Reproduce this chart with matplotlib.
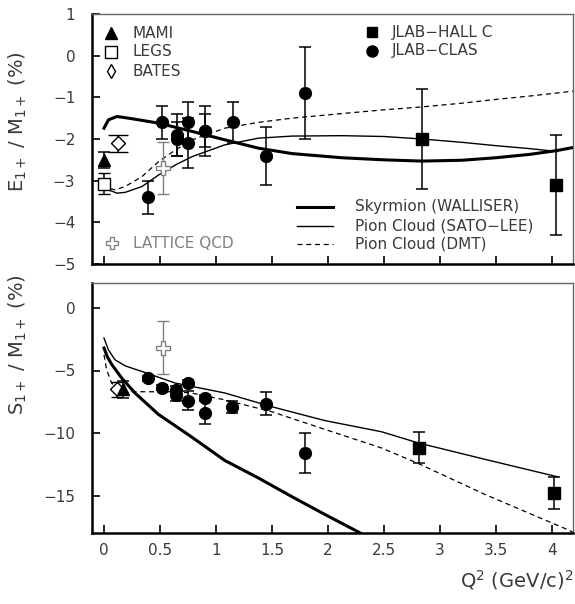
import matplotlib
matplotlib.use('Agg')
import matplotlib.pyplot as plt

plt.rcParams['font.family'] = ['DejaVu Sans']

# ---- data : E1+/M1+ (upper panel) ----
mami_x, mami_e, mami_de = [0.0], [-2.5], [0.2]
legs_x, legs_e, legs_de = [0.0], [-3.07], [0.25]
bates_x, bates_e, bates_de = [0.125], [-2.1], [0.2]
lat_x, lat_e, lat_de = [0.527], [-2.69], [0.63]
clas_x = [0.393, 0.52, 0.65, 0.65, 0.75, 0.75, 0.90, 0.90, 1.15, 1.446, 1.80]
clas_e = [-3.4, -1.6, -1.9, -2.0, -1.6, -2.1, -1.8, -1.8, -1.6, -2.4, -0.9]
clas_de = [0.4, 0.4, 0.5, 0.4, 0.5, 0.6, 0.4, 0.6, 0.5, 0.7, 1.1]
hallc_x = [2.84, 4.04]
hallc_e = [-2.0, -3.1]
hallc_de = [1.2, 1.2]

sky_x = [0, 0.04, 0.116, 0.22, 0.49, 0.79, 1.08, 1.38, 1.68, 2.125, 2.5, 2.84, 3.2, 3.5, 3.8, 4.04, 4.2]
sky_e = [-1.74, -1.54, -1.46, -1.5, -1.62, -1.82, -2.02, -2.22, -2.35, -2.45, -2.5, -2.53, -2.51, -2.45, -2.37, -2.28, -2.2]
sl_x = [0, 0.04, 0.116, 0.19, 0.34, 0.49, 0.64, 0.79, 1.08, 1.38, 1.68, 2.125, 2.5, 2.84, 3.2, 3.5, 3.8, 4.05]
sl_e = [-3.06, -3.22, -3.3, -3.28, -3.14, -2.86, -2.62, -2.42, -2.14, -1.98, -1.93, -1.92, -1.94, -2.0, -2.08, -2.16, -2.23, -2.3]
dmt_x = [0, 0.04, 0.1, 0.19, 0.34, 0.49, 0.64, 0.79, 1.08, 1.38, 1.68, 2.125, 2.5, 2.84, 3.2, 3.5, 3.8, 4.2]
dmt_e = [-3.06, -3.18, -3.22, -3.14, -2.9, -2.54, -2.26, -2.02, -1.74, -1.6, -1.5, -1.39, -1.3, -1.23, -1.14, -1.05, -0.97, -0.85]

# ---- data : S1+/M1+ (lower panel) ----
mami_sx, mami_s, mami_ds = [0.167], [-6.5], [0.7]
bates_sx, bates_s, bates_ds = [0.113], [-6.5], [0.6]
lat_sx, lat_s, lat_ds = [0.524], [-3.16], [2.1]
clas_sx = [0.396, 0.52, 0.643, 0.643, 0.747, 0.747, 0.90, 0.90, 1.146, 1.443, 1.795]
clas_s = [-5.61, -6.36, -6.55, -6.95, -5.96, -7.4, -7.17, -8.37, -7.89, -7.67, -11.58]
clas_ds = [0.2, 0.2, 0.3, 0.45, 0.2, 0.74, 0.2, 0.9, 0.48, 0.92, 1.58]
hallc_sx = [2.81, 4.02]
hallc_s = [-11.17, -14.78]
hallc_ds = [1.25, 1.3]

sky_sx = [0, 0.03, 0.068, 0.158, 0.277, 0.485, 0.78, 1.08, 1.38, 1.68, 1.97, 2.29]
sky_s = [-3.2, -3.9, -4.5, -5.6, -6.8, -8.5, -10.3, -12.2, -13.6, -15.1, -16.5, -18.0]
sl_sx = [0, 0.039, 0.098, 0.19, 0.366, 0.634, 1.08, 1.5, 1.97, 2.48, 2.81, 3.4, 4.05]
sl_s = [-2.4, -3.34, -4.14, -4.63, -5.16, -6.0, -6.8, -7.9, -9.0, -9.9, -10.8, -12.1, -13.5]
dmt_sx = [0, 0.024, 0.068, 0.128, 0.19, 0.634, 0.78, 1.08, 1.5, 1.97, 2.48, 2.81, 3.4, 4.16, 4.2]
dmt_s = [-3.74, -4.95, -6.0, -6.55, -6.7, -6.7, -6.8, -7.35, -8.3, -9.7, -11.2, -12.45, -14.9, -17.8, -18.0]

xticks = [0, 0.5, 1, 1.5, 2, 2.5, 3, 3.5, 4]
xticklabels = ['0', '0.5', '1', '1.5', '2', '2.5', '3', '3.5', '4']

fig = plt.figure(figsize=(5.75, 6.04), dpi=100)
W, H = 575.0, 604.0
ax1 = fig.add_axes([92 / W, 1 - 264 / H, 481 / W, 250 / H])
ax2 = fig.add_axes([92 / W, 1 - 533 / H, 481 / W, 250 / H])

gray = '#808080'
txt = '#3a3a3a'
ebkw = dict(ls='none', ecolor='black', elinewidth=1.1, capthick=1.1, capsize=4)


def style(ax):
    for s in ['left', 'bottom']:
        ax.spines[s].set_linewidth(1.8)
    for s in ['top', 'right']:
        ax.spines[s].set_linewidth(1.0)
        ax.spines[s].set_color('#666666')
    ax.tick_params(direction='in', length=6, width=1.2, top=False, right=False,
                   labelsize=11, labelcolor=txt)
    ax.tick_params(axis='y', pad=12)
    ax.tick_params(axis='x', pad=7)
    ax.set_xlim(-0.107, 4.19)
    ax.set_xticks(xticks)


# ---------- upper panel ----------
style(ax1)
ax1.set_ylim(-5, 1)
ax1.set_yticks([1, 0, -1, -2, -3, -4, -5])
ax1.set_xticklabels([])

ax1.plot(sky_x, sky_e, color='black', lw=2.2)
ax1.plot(sl_x, sl_e, color='black', lw=1.0)
ax1.plot(dmt_x, dmt_e, color='black', lw=0.9, ls=(0, (4, 3)))

ax1.errorbar(lat_x, lat_e, yerr=lat_de, marker='P', ms=10, mfc='white', mec=gray,
             mew=1.0, ls='none', ecolor=gray, elinewidth=1.0, capthick=1.0, capsize=4)
ax1.errorbar(clas_x, clas_e, yerr=clas_de, marker='o', ms=8.5, mfc='black', mec='black', **ebkw)
ax1.errorbar(hallc_x, hallc_e, yerr=hallc_de, marker='s', ms=8, mfc='black', mec='black', **ebkw)
ax1.errorbar(mami_x, mami_e, yerr=mami_de, marker='^', ms=8, mfc='black', mec='black', **ebkw)
ax1.errorbar(legs_x, legs_e, yerr=legs_de, marker='s', ms=8, mfc='white', mec='black', mew=1.0, **ebkw)
ax1.errorbar(bates_x, bates_e, yerr=bates_de, marker='D', ms=7, mfc='white', mec='black', mew=1.0,
             ls='none', ecolor='black', elinewidth=1.1, capthick=1.1, capsize=7)

# legends drawn by hand
tkw = dict(transform=ax1.transAxes, va='center', ha='left', fontsize=11, color=txt)
mk = dict(transform=ax1.transAxes, ls='none', clip_on=False)
ax1.plot([0.0395], [0.924], marker='^', ms=8, color='black', **mk)
ax1.text(0.085, 0.924, 'MAMI', **tkw)
ax1.plot([0.0395], [0.848], marker='s', ms=8, mfc='white', mec='black', mew=1.0, **mk)
ax1.text(0.085, 0.848, 'LEGS', **tkw)
ax1.plot([0.0395], [0.772], marker='d', ms=7, mfc='white', mec='black', mew=1.0, **mk)
ax1.text(0.085, 0.772, 'BATES', **tkw)
ax1.plot([0.582], [0.928], marker='s', ms=7.5, color='black', **mk)
ax1.text(0.624, 0.928, 'JLAB\u2212HALL C', **tkw)
ax1.plot([0.582], [0.852], marker='o', ms=8, color='black', **mk)
ax1.text(0.624, 0.852, 'JLAB\u2212CLAS', **tkw)
ax1.plot([0.0416], [0.084], marker='P', ms=9, mfc='white', mec=gray, mew=1.0, **mk)
ax1.text(0.085, 0.084, 'LATTICE QCD', transform=ax1.transAxes, va='center', ha='left',
         fontsize=11, color=gray)

ax1.plot([0.426, 0.501], [0.228, 0.228], color='black', lw=2.2, transform=ax1.transAxes)
ax1.text(0.547, 0.228, 'Skyrmion (WALLISER)', **tkw)
ax1.plot([0.426, 0.501], [0.152, 0.152], color='black', lw=1.0, transform=ax1.transAxes)
ax1.text(0.547, 0.152, 'Pion Cloud (SATO\u2212LEE)', **tkw)
ax1.plot([0.426, 0.501], [0.08, 0.08], color='black', lw=0.9, ls=(0, (4, 3)), transform=ax1.transAxes)
ax1.text(0.547, 0.08, 'Pion Cloud (DMT)', **tkw)

# ---------- lower panel ----------
style(ax2)
ax2.set_ylim(-18, 2)
ax2.set_yticks([0, -5, -10, -15])
ax2.set_xticklabels(xticklabels)

ax2.plot(sky_sx, sky_s, color='black', lw=2.2)
ax2.plot(sl_sx, sl_s, color='black', lw=1.0)
ax2.plot(dmt_sx, dmt_s, color='black', lw=0.9, ls=(0, (4, 3)))

ax2.errorbar(lat_sx, lat_s, yerr=lat_ds, marker='P', ms=10, mfc='white', mec=gray,
             mew=1.0, ls='none', ecolor=gray, elinewidth=1.0, capthick=1.0, capsize=4)
ax2.errorbar(clas_sx, clas_s, yerr=clas_ds, marker='o', ms=8.5, mfc='black', mec='black', **ebkw)
ax2.errorbar(hallc_sx, hallc_s, yerr=hallc_ds, marker='s', ms=8, mfc='black', mec='black', **ebkw)
ax2.errorbar(bates_sx, bates_s, yerr=bates_ds, marker='D', ms=7, mfc='white', mec='black', mew=1.0,
             ls='none', ecolor='black', elinewidth=1.1, capthick=1.1, capsize=4)
ax2.errorbar(mami_sx, mami_s, yerr=mami_ds, marker='^', ms=8, mfc='black', mec='black', **ebkw)

# axis titles
fig.text(18 / W, 1 - 122 / H, 'E$_{1+}$ / M$_{1+}$ (%)', rotation=90, va='center', ha='center',
         fontsize=14, color=txt)
fig.text(18 / W, 1 - 345 / H, 'S$_{1+}$ / M$_{1+}$ (%)', rotation=90, va='center', ha='center',
         fontsize=14, color=txt)
fig.text(573 / W, 1 - 580 / H, 'Q$^2$ (GeV/c)$^2$', va='center', ha='right',
         fontsize=14, color=txt)

fig.savefig('out.png', dpi=100)
